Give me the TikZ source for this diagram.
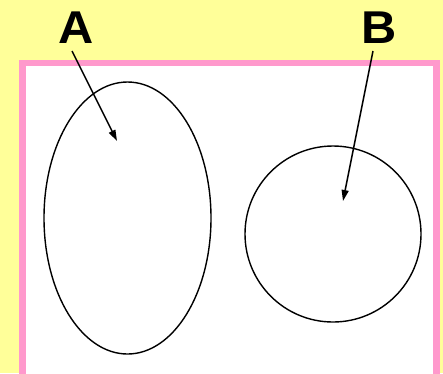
\documentclass[tikz,border=0pt]{standalone}
\usepackage{fontspec}
\setmainfont{Liberation Sans}
\usetikzlibrary{arrows.meta,shapes.geometric}
\definecolor{bgyellow}{HTML}{FFFF99}
\definecolor{framepink}{HTML}{FF99CC}
\tikzset{
  lbl/.style={font=\bfseries\fontsize{46}{46}\selectfont, inner sep=0pt, anchor=base, xscale=1.06},
  outline/.style={draw=black, line width=1.4pt},
  pointer/.style={draw=black, line width=1.5pt, -{Triangle[length=11pt,width=7pt]}}
}
\begin{document}
\begin{tikzpicture}[x=1pt,y=-1pt]
\useasboundingbox (0,0) rectangle (443,373);
\fill[bgyellow] (0,0) rectangle (443,373);
\fill[framepink] (19,59.5) rectangle (440,380);
\fill[white] (26,66) rectangle (433,380);
\node[outline, ellipse, minimum width=167pt, minimum height=272pt, inner sep=0pt] (ell) at (127.5,218) {};
\node[outline, circle, minimum size=176pt, inner sep=0pt] (circ) at (333,234) {};
\node[lbl] (A) at (75.7,43.5) {A};
\node[lbl] (B) at (379,43.5) {B};
\coordinate (sa) at (72,51);
\coordinate (sb) at (373,51);
\coordinate (ta) at (117,141);
\coordinate (tb) at (343,201);
\draw[pointer] (sa) -- (ta);
\draw[pointer] (sb) -- (tb);
\end{tikzpicture}
\end{document}
